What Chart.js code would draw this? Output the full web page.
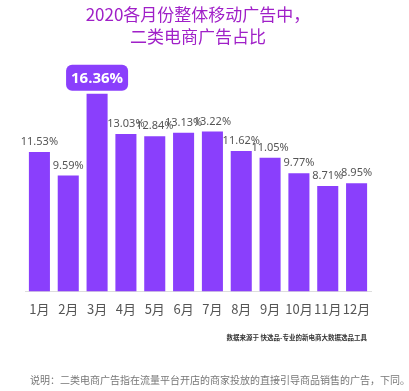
<!DOCTYPE html>
<html><head><meta charset="utf-8">
<script src="https://cdn.jsdelivr.net/npm/chart.js@4/dist/chart.umd.min.js"></script>
<style>
html,body{margin:0;padding:0;background:#fff;}
#wrap{position:relative;width:409px;height:391px;}
#c{position:absolute;left:0;top:0;}
.src{position:absolute;right:42px;top:332px;font:bold 6.5px "Noto Sans CJK SC",sans-serif;color:#333;white-space:nowrap;}
.note{position:absolute;left:30px;top:372px;font:10px "Noto Sans CJK SC",sans-serif;color:#777;white-space:nowrap;}
</style></head>
<body><div id="wrap"><canvas id="c" width="409" height="391"></canvas>
<div class="src">数据来源于 快选品-专业的新电商大数据选品工具</div>
<div class="note">说明：二类电商广告指在流量平台开店的商家投放的直接引导商品销售的广告，下同。</div>
</div>
<script>
const months = ["1月","2月","3月","4月","5月","6月","7月","8月","9月","10月","11月","12月"];
const shares = [11.53, 9.59, 16.36, 13.03, 12.84, 13.13, 13.22, 11.62, 11.05, 9.77, 8.71, 8.95];
const highlightIndex = 2;
const titleLines = ["2020各月份整体移动广告中，", "二类电商广告占比"];

const labelPlugin = {
  id: 'valLabels',
  afterDatasetsDraw(chart) {
    const ctx = chart.ctx;
    const meta = chart.getDatasetMeta(0);
    meta.data.forEach((bar, i) => {
      const txt = shares[i].toFixed(2) + '%';
      ctx.save();
      ctx.textAlign = 'center';
      ctx.textBaseline = 'middle';
      if (i === highlightIndex) {
        const w = 62, h = 26, cx = bar.x, cy = bar.y - 16;
        ctx.fillStyle = '#8a3ffc';
        ctx.beginPath();
        ctx.roundRect(cx - w/2, cy - h/2, w, h, 6);
        ctx.fill();
        ctx.fillStyle = '#fff';
        ctx.font = 'bold 15px "Open Sans", "Noto Sans", sans-serif';
        ctx.fillText(txt, cx, cy + 1);
      } else {
        ctx.fillStyle = '#555';
        ctx.font = '11px "Noto Sans", "Open Sans", sans-serif';
        ctx.fillText(txt, bar.x, bar.y - 10);
      }
      ctx.restore();
    });
  }
};

new Chart(document.getElementById('c'), {
  type: 'bar',
  data: {
    labels: months,
    datasets: [{
      data: shares,
      backgroundColor: '#8a3ffc',
      categoryPercentage: 1.0,
      barPercentage: 0.73
    }]
  },
  options: {
    responsive: false,
    animation: false,
    layout: { padding: { left: 25, right: 38, bottom: 64, top: 0 } },
    plugins: {
      legend: { display: false },
      tooltip: { enabled: false },
      title: {
        display: true,
        text: titleLines,
        color: '#a020c8',
        font: { size: 17, family: '"Noto Sans CJK SC", sans-serif', weight: 'normal', lineHeight: 1.3 },
        padding: { top: 3, bottom: 23 }
      }
    },
    scales: {
      x: {
        grid: { display: false, drawTicks: false },
        border: { display: true, color: '#dddddd', width: 1 },
        ticks: { color: '#555', font: { size: 13, family: '"Noto Sans CJK SC", sans-serif' }, padding: 10, maxRotation: 0, autoSkip: false }
      },
      y: { display: false, min: 0, max: 18.3 }
    }
  },
  plugins: [labelPlugin]
});
</script></body></html>
